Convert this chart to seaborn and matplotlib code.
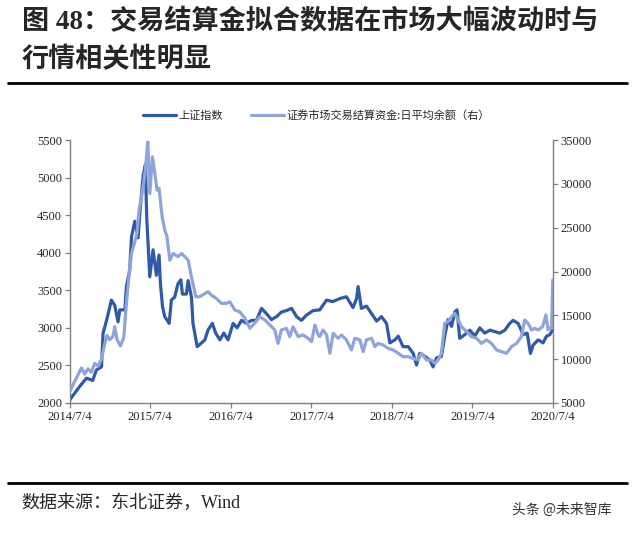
import matplotlib
matplotlib.use("Agg")
import matplotlib.pyplot as plt
from matplotlib.lines import Line2D
import numpy as np
import pandas as pd
import seaborn as sns

# 上证指数 (left axis)
sh_dates = ["2014-07-04", "2014-08-18", "2014-09-18", "2014-10-16", "2014-11-02", "2014-11-25",
            "2014-12-02", "2014-12-18", "2015-01-09", "2015-01-24", "2015-02-08", "2015-02-16",
            "2015-03-11", "2015-03-18", "2015-04-02", "2015-04-10", "2015-04-25", "2015-05-10",
            "2015-05-18", "2015-06-02", "2015-06-12", "2015-06-18", "2015-07-02", "2015-07-17",
            "2015-08-01", "2015-08-13", "2015-08-19", "2015-08-29", "2015-09-08", "2015-09-28",
            "2015-10-08", "2015-10-23", "2015-11-07", "2015-11-20", "2015-11-27", "2015-12-15",
            "2015-12-23", "2016-01-07", "2016-01-14", "2016-01-22", "2016-02-02", "2016-02-22",
            "2016-03-08", "2016-03-22", "2016-04-11", "2016-04-26", "2016-05-15", "2016-06-02",
            "2016-06-21", "2016-07-14", "2016-08-01", "2016-08-21", "2016-09-13", "2016-10-05",
            "2016-10-28", "2016-11-20", "2016-12-12", "2017-01-04", "2017-01-27", "2017-02-18",
            "2017-03-13", "2017-04-05", "2017-04-28", "2017-05-20", "2017-06-12", "2017-07-12",
            "2017-08-11", "2017-09-11", "2017-10-09", "2017-11-10", "2017-12-10", "2018-01-09",
            "2018-01-25", "2018-02-01", "2018-02-16", "2018-03-11", "2018-04-03", "2018-04-26",
            "2018-05-18", "2018-06-10", "2018-06-25", "2018-07-18", "2018-08-02", "2018-08-24",
            "2018-09-16", "2018-10-09", "2018-10-24", "2018-11-08", "2018-12-01", "2018-12-23",
            "2019-01-07", "2019-01-23", "2019-02-14", "2019-03-01", "2019-03-16", "2019-04-01",
            "2019-04-16", "2019-04-26", "2019-05-08", "2019-05-31", "2019-06-23", "2019-07-15",
            "2019-08-07", "2019-08-30", "2019-09-22", "2019-10-14", "2019-11-06", "2019-11-29",
            "2019-12-21", "2020-01-05", "2020-01-28", "2020-02-20", "2020-03-09", "2020-03-24",
            "2020-04-05", "2020-04-28", "2020-05-20", "2020-06-05", "2020-06-20", "2020-07-02"]
sh_index = [2040, 2220, 2330, 2300, 2440, 2480,
            2930, 3100, 3370, 3300, 3080, 3240,
            3240, 3550, 3770, 4210, 4420, 4200,
            4530, 5030, 5170, 4480, 3680, 4040,
            3700, 3970, 3600, 3280, 3150, 3060,
            3370, 3410, 3590, 3640, 3450, 3450,
            3630, 3410, 3060, 2930, 2750, 2800,
            2840, 2970, 3060, 2930, 2840, 2930,
            2840, 3060, 3000, 3100, 3060, 3100,
            3100, 3260, 3190, 3110, 3150, 3210,
            3230, 3260, 3150, 3100, 3170, 3230,
            3240, 3370, 3350, 3390, 3415, 3270,
            3390, 3550, 3260, 3290, 3190, 3090,
            3150, 3060, 2800, 2840, 2890, 2750,
            2750, 2660, 2505, 2660, 2620, 2570,
            2480, 2600, 2620, 2890, 3110, 3020,
            3215, 3240, 2860, 2910, 2970, 2890,
            3000, 2930, 2970, 2950, 2930, 2970,
            3060, 3100, 3060, 2910, 2930, 2660,
            2770, 2840, 2800, 2890, 2910, 2970]

# 证券市场交易结算资金:日平均余额 (right axis)
fund_dates = ["2014-07-04", "2014-08-03", "2014-08-26", "2014-09-10", "2014-09-25", "2014-10-10",
              "2014-10-25", "2014-11-09", "2014-11-25", "2014-12-10", "2014-12-20", "2015-01-01",
              "2015-01-16", "2015-01-24", "2015-02-04", "2015-02-19", "2015-03-06", "2015-03-18",
              "2015-03-30", "2015-04-10", "2015-04-25", "2015-05-05", "2015-05-14", "2015-05-25",
              "2015-06-04", "2015-06-13", "2015-06-23", "2015-07-02", "2015-07-14", "2015-07-25",
              "2015-08-04", "2015-08-13", "2015-08-27", "2015-09-08", "2015-09-18", "2015-10-01",
              "2015-10-16", "2015-11-07", "2015-11-23", "2015-12-08", "2015-12-23", "2016-01-07",
              "2016-01-27", "2016-02-14", "2016-03-08", "2016-03-22", "2016-04-07", "2016-04-30",
              "2016-05-22", "2016-06-14", "2016-06-29", "2016-07-22", "2016-08-13", "2016-09-05",
              "2016-09-28", "2016-10-20", "2016-11-12", "2016-12-05", "2016-12-28", "2017-01-19",
              "2017-02-03", "2017-02-18", "2017-03-13", "2017-03-28", "2017-04-12", "2017-05-05",
              "2017-05-27", "2017-06-19", "2017-07-05", "2017-07-20", "2017-08-04", "2017-08-11",
              "2017-08-26", "2017-09-11", "2017-09-26", "2017-10-11", "2017-11-02", "2017-11-18",
              "2017-12-10", "2018-01-02", "2018-01-17", "2018-02-09", "2018-02-24", "2018-03-11",
              "2018-04-03", "2018-04-18", "2018-05-03", "2018-05-25", "2018-06-17", "2018-07-10",
              "2018-08-02", "2018-08-24", "2018-09-16", "2018-10-09", "2018-10-31", "2018-11-16",
              "2018-12-08", "2018-12-31", "2019-01-15", "2019-01-30", "2019-02-14", "2019-03-01",
              "2019-03-16", "2019-04-01", "2019-04-16", "2019-05-01", "2019-05-16", "2019-06-08",
              "2019-07-01", "2019-07-23", "2019-08-15", "2019-09-07", "2019-09-29", "2019-10-22",
              "2019-11-14", "2019-12-06", "2019-12-29", "2020-01-21", "2020-02-12", "2020-02-27",
              "2020-03-13", "2020-03-29", "2020-04-13", "2020-04-28", "2020-05-18", "2020-06-02",
              "2020-06-12", "2020-06-28", "2020-07-03"]
fund_balance = [6300, 7850, 9000, 8300, 8900, 8500,
                9530, 9200, 10000, 11800, 12700, 12200,
                12600, 13700, 12200, 11500, 12500, 16370,
                19600, 22070, 23400, 24350, 27000, 28500,
                30060, 31900, 34800, 28900, 33100, 31200,
                29300, 29500, 26250, 24730, 24000, 21300,
                22070, 21700, 22070, 21700, 21300, 19400,
                17130, 17130, 17500, 17700, 17300, 16900,
                16370, 16370, 16550, 15600, 15400, 14700,
                13520, 14100, 14840, 14480, 13900, 13330,
                11800, 13330, 13520, 12570, 13700, 12570,
                12760, 12380, 12000, 13900, 12760, 12570,
                13330, 12760, 10670, 12950, 12380, 12760,
                12200, 11050, 12380, 12200, 10860, 12200,
                12380, 11430, 11800, 11620, 11240, 11050,
                10670, 10280, 10280, 10090, 9900, 10670,
                9900, 9900, 9520, 9900, 10670, 14090,
                14280, 14850, 15230, 14470, 13710, 13140,
                12570, 12380, 11800, 12200, 11800, 11050,
                10860, 10670, 11430, 11800, 12570, 14470,
                14090, 13330, 13520, 13330, 13710, 15040,
                13330, 13710, 19030]

tick_dates = ["2014-07-04", "2015-07-04", "2016-07-04", "2017-07-04",
              "2018-07-04", "2019-07-04", "2020-07-04"]
tick_labels = ["2014/7/4", "2015/7/4", "2016/7/4", "2017/7/4",
               "2018/7/4", "2019/7/4", "2020/7/4"]

sh = pd.DataFrame({"date": pd.to_datetime(sh_dates), "value": sh_index})
fund = pd.DataFrame({"date": pd.to_datetime(fund_dates), "value": fund_balance})

sns.set_style("white")
plt.rcParams["font.family"] = ["Liberation Serif", "Noto Sans CJK SC", "DejaVu Sans"]

dark = "#2f5aa8"
light = "#8fa5da"
spine_c = "#808080"
cjk = ["Noto Sans CJK SC", "DejaVu Sans"]
serif_cjk = ["Liberation Serif", "Noto Sans CJK SC", "DejaVu Sans"]

fig = plt.figure(figsize=(6.4, 5.33), dpi=100)
ax = fig.add_axes([0.109, 0.244, 0.755, 0.493])
ax2 = ax.twinx()

sns.lineplot(data=sh, x="date", y="value", ax=ax, color=dark, linewidth=2.3)
sns.lineplot(data=fund, x="date", y="value", ax=ax2, color=light, linewidth=2.3)

ax.set_xlim(pd.Timestamp("2014-07-04"), pd.Timestamp("2020-07-04"))
ax.set_ylim(2000, 5500)
ax2.set_ylim(5000, 35000)
ax.set_yticks(np.arange(2000, 5501, 500))
ax2.set_yticks(np.arange(5000, 35001, 5000))
ax.set_xticks(pd.to_datetime(tick_dates))
ax.set_xticklabels(tick_labels)
for a in (ax, ax2):
    a.set_xlabel("")
    a.set_ylabel("")
    a.spines["top"].set_visible(False)
    for s in ("left", "right", "bottom"):
        a.spines[s].set_color(spine_c)
        a.spines[s].set_linewidth(1.0)
ax.spines["right"].set_visible(False)
ax2.spines["left"].set_visible(False)
ax2.spines["bottom"].set_visible(False)
ax.tick_params(axis="both", direction="out", length=3.5, width=0.9, color=spine_c,
               labelsize=9, pad=2, left=True, bottom=True)
ax2.tick_params(axis="y", direction="out", length=3.5, width=0.9, color=spine_c,
                labelsize=9, pad=2, right=True)

handles = [Line2D([], [], color=dark, lw=2.3), Line2D([], [], color=light, lw=2.3)]
fig.legend(handles, ["上证指数", "证券市场交易结算资金:日平均余额（右）"],
           loc="center", bbox_to_anchor=(0.494, 0.784), ncol=2, frameon=False,
           prop={"family": cjk, "size": 8}, handlelength=3.0, columnspacing=2.5,
           handletextpad=0.2)

fig.text(0.034, 0.959, "图 48：交易结算金拟合数据在市场大幅波动时与",
         family=serif_cjk, fontsize=19.5, fontweight="bold", va="center", ha="left")
fig.text(0.034, 0.887, "行情相关性明显",
         family=serif_cjk, fontsize=19.5, fontweight="bold", va="center", ha="left")
fig.add_artist(Line2D([0.0125, 0.98], [0.844, 0.844], transform=fig.transFigure,
                      color="black", lw=2.0))
fig.add_artist(Line2D([0.0125, 0.98], [0.094, 0.094], transform=fig.transFigure,
                      color="black", lw=2.0))
fig.text(0.034, 0.056, "数据来源：东北证券，Wind",
         family=serif_cjk, fontsize=13, va="center", ha="left")
fig.text(0.955, 0.043, "头条 @未来智库", family=cjk, fontsize=10, color="#333333",
         va="center", ha="right")

fig.savefig("out.png", dpi=100)
